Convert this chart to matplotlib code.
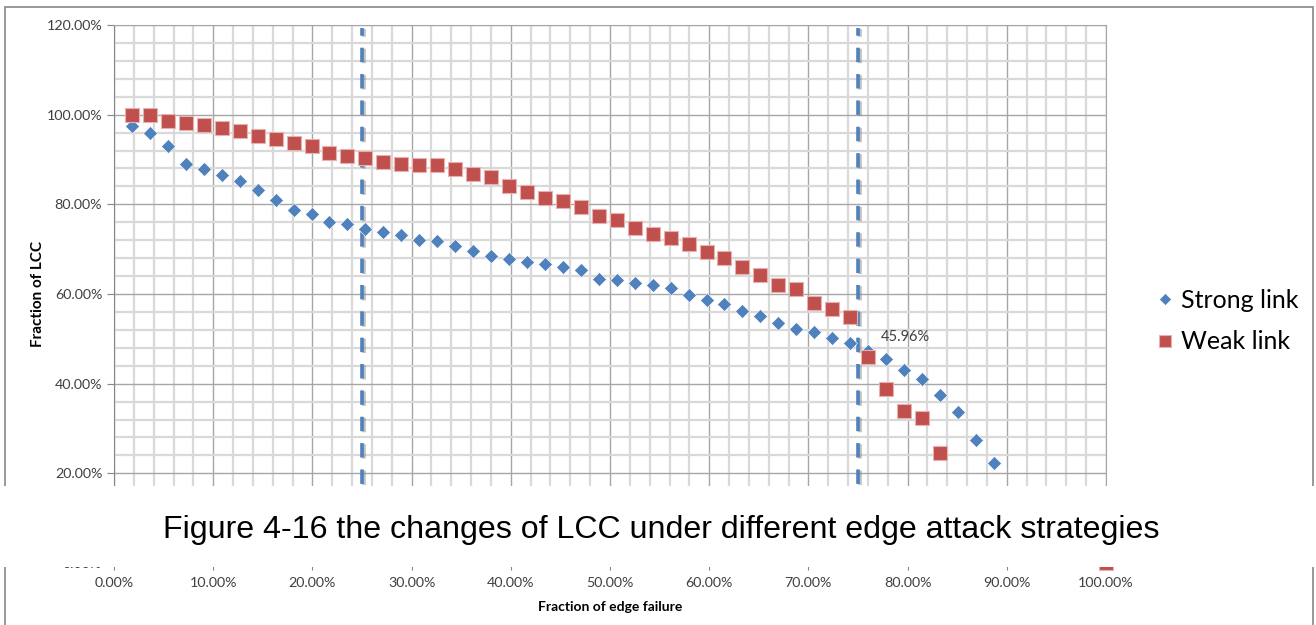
''' LCC under edge attack strategies '''
import matplotlib
matplotlib.use("Agg")
import matplotlib.pyplot as plt
import matplotlib.patheffects as pe
from matplotlib.patches import Rectangle
from matplotlib.ticker import MultipleLocator, FuncFormatter

# fraction of edge failure (%)
failure = [1.81, 3.62, 5.43, 7.24, 9.05, 10.86, 12.67, 14.48, 16.29, 18.10,
           19.91, 21.72, 23.53, 25.34, 27.15, 28.96, 30.77, 32.58, 34.39, 36.20,
           38.01, 39.82, 41.63, 43.44, 45.25, 47.06, 48.87, 50.68, 52.49, 54.30,
           56.11, 57.92, 59.73, 61.54, 63.35, 65.16, 66.97, 68.78, 70.59, 72.40,
           74.21, 76.02, 77.83, 79.64, 81.45, 83.26, 85.07, 86.88, 88.69]

# fraction of LCC (%)
strong_link = [97.5, 95.8, 93.1, 89.1, 87.9, 86.6, 85.3, 83.3, 80.9, 78.8,
               77.8, 76.1, 75.7, 74.6, 73.8, 73.2, 72.1, 71.8, 70.6, 69.6,
               68.5, 67.9, 67.2, 66.6, 66.0, 65.4, 63.3, 63.1, 62.4, 61.9,
               61.3, 59.7, 58.7, 57.8, 56.1, 55.0, 53.6, 52.3, 51.6, 50.2,
               49.0, 47.2, 45.5, 43.0, 41.0, 37.5, 33.6, 27.5, 22.3]

weak_x = failure[:46] + [100.0]
weak_link = [100.0, 100.0, 98.5, 98.1, 97.8, 97.0, 96.3, 95.3, 94.6, 93.6,
             92.9, 91.4, 90.8, 90.3, 89.4, 89.1, 88.8, 88.7, 87.9, 86.8,
             86.2, 84.0, 82.8, 81.5, 80.8, 79.5, 77.5, 76.6, 74.8, 73.4,
             72.4, 71.1, 69.4, 68.0, 66.0, 64.3, 62.0, 61.1, 58.0, 56.7,
             54.8, 45.96, 38.8, 33.9, 32.3, 24.6, 0.0]

thresholds = [25, 75]
label_idx = 41  # weak link point with data label
caption = "Figure 4-16 the changes of LCC under different edge attack strategies"

blue = '#4F81BD'
red = '#C0504D'
W, H = 1316, 625

fig = plt.figure(figsize=(W / 100, H / 100), dpi=100)
ax = fig.add_axes([114 / W, 1 - 563 / H, 992 / W, 538 / H])

ax.set_xlim(0, 100)
ax.set_ylim(0, 120)
ax.xaxis.set_major_locator(MultipleLocator(10))
ax.xaxis.set_minor_locator(MultipleLocator(2))
ax.yaxis.set_major_locator(MultipleLocator(20))
ax.yaxis.set_minor_locator(MultipleLocator(4))
pct = FuncFormatter(lambda v, p: '%.2f%%' % v)
ax.xaxis.set_major_formatter(pct)
ax.yaxis.set_major_formatter(pct)

ax.grid(which='major', color='#A6A6A6', lw=1.0, zorder=0)
ax.grid(which='minor', color='#D9D9D9', lw=1.6, zorder=0)
ax.set_axisbelow(True)
for s in ax.spines.values():
    s.set_color('#A6A6A6')
ax.spines['left'].set_color('#868686')
ax.tick_params(which='major', length=5, color='#868686', labelsize=10.3,
               labelcolor='#404040')
ax.tick_params(which='minor', length=0)
ax.tick_params(axis='x', pad=5)
for t in ax.get_xticklabels() + ax.get_yticklabels():
    t.set_fontfamily('Lato')

for xv in thresholds:
    ax.axvline(xv, ymax=0.995, color=blue, lw=2.6, dashes=(4.0, 3.3), zorder=2,
               path_effects=[pe.SimpleLineShadow(offset=(1.5, -1), shadow_color='#808080', alpha=0.5),
                             pe.Normal()])

ax.plot(failure, strong_link, 'D', color=blue, ms=7.5, mec='white', mew=0.4,
        label='Strong link', zorder=3, clip_on=False)
ax.plot(weak_x, weak_link, 's', color=red, ms=10.5, mec='#E8B0AE', mew=0.8,
        label='Weak link', zorder=3, clip_on=False)
ax.annotate('%.2f%%' % weak_link[label_idx], (weak_x[label_idx], weak_link[label_idx]),
            xytext=(9, 9), textcoords='offset points', fontsize=10.5,
            color='#404040', family='Lato', ha='left', va='bottom')

ax.set_ylabel('Fraction of LCC', fontsize=11, fontweight='bold', family='Lato',
              labelpad=1)
ax.set_xlabel('Fraction of edge failure', fontsize=10, fontweight='bold', family='Lato',
              labelpad=8.5)

ax.legend(loc='center left', bbox_to_anchor=(1.024, 0.45), frameon=False,
          prop={'family': 'Lato', 'size': 18}, handletextpad=0.15,
          labelspacing=0.75, markerscale=0.85, handlelength=1.0)

# chart frame
fig.add_artist(Rectangle((5 / W, -0.1), 1308 / W, 1.1 - 7 / H, transform=fig.transFigure,
                         fill=False, ec='#868686', lw=1.2, zorder=0))

# caption band pasted over the lower part of the chart
fig.add_artist(Rectangle((0, 1 - 567 / H), 1, 81 / H, transform=fig.transFigure,
                         fc='white', ec='none', zorder=20))
fig.text(661 / W, 1 - 530 / H, caption, ha='center', va='center', fontsize=23.1,
         family='Liberation Sans', color='black', zorder=21)

fig.savefig('out.png', dpi=100)
